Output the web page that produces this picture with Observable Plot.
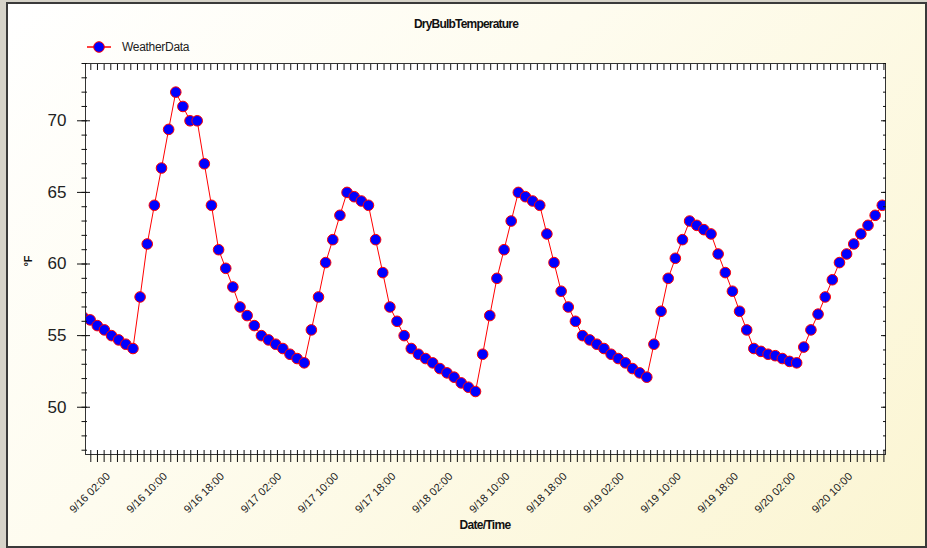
<!DOCTYPE html>
<html><head><meta charset="utf-8">
<script src="https://cdn.jsdelivr.net/npm/d3@7"></script>
<script src="https://cdn.jsdelivr.net/npm/@observablehq/plot@0.6"></script>
<style>
html,body{margin:0;padding:0;}
body{width:927px;height:548px;background:#d6d3c9;position:relative;overflow:hidden;font-family:"Liberation Sans",Arial,sans-serif;}
#panel{position:absolute;left:6px;top:2px;width:917px;height:542px;border:2px solid #3a3a3a;background:linear-gradient(135deg,#ffffff 0%,#fefcef 40%,#fbf5d2 100%);}
#title{position:absolute;left:0;width:932px;top:17px;text-align:center;font-weight:bold;font-size:12px;letter-spacing:-0.8px;color:#111;}
#legend{position:absolute;left:86px;top:40px;height:14px;display:flex;align-items:center;font-size:12px;letter-spacing:-0.3px;color:#222;}
#legend svg{margin-right:10px;}
#chart{position:absolute;left:0;top:56px;}
#ylab{position:absolute;left:20px;top:255px;width:16px;text-align:center;transform:rotate(-90deg);font-weight:bold;font-size:11px;color:#111;}
#xlab{position:absolute;left:0;width:970px;top:518px;text-align:center;font-weight:bold;font-size:12px;letter-spacing:-0.7px;color:#111;}
</style></head>
<body>
<div id="panel"></div>
<div id="title"></div>
<div id="legend"></div>
<div id="chart"></div>
<div id="ylab"></div>
<div id="xlab"></div>
<script>
const chartTitle = "DryBulbTemperature";
const seriesName = "WeatherData";
const yAxisLabel = "°F";
const xAxisLabel = "Date/Time";
// hourly readings starting 9/16 00:00
const temperatureF = [
  56.3, 56.1, 55.7, 55.4, 55.0, 54.7, 54.4, 54.1, 57.7, 61.4, 64.1, 66.7, 69.4, 72.0, 71.0, 70.0,
  70.0, 67.0, 64.1, 61.0, 59.7, 58.4, 57.0, 56.4, 55.7, 55.0, 54.7, 54.4, 54.1, 53.7, 53.4, 53.1,
  55.4, 57.7, 60.1, 61.7, 63.4, 65.0, 64.7, 64.4, 64.1, 61.7, 59.4, 57.0, 56.0, 55.0, 54.1, 53.7,
  53.4, 53.1, 52.7, 52.4, 52.1, 51.7, 51.4, 51.1, 53.7, 56.4, 59.0, 61.0, 63.0, 65.0, 64.7, 64.4,
  64.1, 62.1, 60.1, 58.1, 57.0, 56.0, 55.0, 54.7, 54.4, 54.1, 53.7, 53.4, 53.1, 52.7, 52.4, 52.1,
  54.4, 56.7, 59.0, 60.4, 61.7, 63.0, 62.7, 62.4, 62.1, 60.7, 59.4, 58.1, 56.7, 55.4, 54.1, 53.9,
  53.7, 53.6, 53.4, 53.2, 53.1, 54.2, 55.4, 56.5, 57.7, 58.9, 60.1, 60.7, 61.4, 62.1, 62.7, 63.4,
  64.1
];
const xTickHours = [2, 10, 18, 26, 34, 42, 50, 58, 66, 74, 82, 90, 98, 106];
const xTickLabels = ["9/16 02:00","9/16 10:00","9/16 18:00","9/17 02:00","9/17 10:00","9/17 18:00","9/18 02:00",
  "9/18 10:00","9/18 18:00","9/19 02:00","9/19 10:00","9/19 18:00","9/20 02:00","9/20 10:00"];
const yMajorTicks = [50, 55, 60, 65, 70];

const data = temperatureF.map((t, i) => ({hour: i, t}));
const labelMap = new Map(xTickHours.map((h, i) => [h, xTickLabels[i]]));
const minorX = d3.range(120).map(k => 1.093 + k * 0.9339);
const minorY = d3.range(47, 75);
const blank = () => "";

document.getElementById("title").textContent = chartTitle;
document.getElementById("ylab").textContent = yAxisLabel;
document.getElementById("xlab").textContent = xAxisLabel;
document.getElementById("legend").innerHTML =
  '<svg width="26" height="14"><line x1="1" x2="25" y1="7" y2="7" stroke="#ff0000" stroke-width="1.5"/><circle cx="13" cy="7" r="5.3" fill="#0000ff" stroke="#ff0000"/></svg><span></span>';
document.querySelector("#legend span").textContent = seriesName;

const chart = Plot.plot({
  width: 927, height: 492,
  marginTop: 7, marginBottom: 94, marginLeft: 85, marginRight: 42,
  style: {background: "transparent", fontFamily: "Liberation Sans, Arial, sans-serif", overflow: "visible"},
  x: {domain: [0.35, 112.45]},
  y: {domain: [46.7, 74]},
  marks: [
    Plot.frame({fill: "white", stroke: null}),
    Plot.line(data, {x: "hour", y: "t", stroke: "#ff0000", strokeWidth: 1, clip: true}),
    Plot.dot(data, {x: "hour", y: "t", r: 5.3, fill: "#0000ff", stroke: "#ff0000", strokeWidth: 1, clip: true}),
    Plot.frame({stroke: "#333"}),
    Plot.axisY({ticks: yMajorTicks, tickSize: 13, dx: 5, tickFormat: blank, label: null, stroke: "#111"}),
    Plot.axisY({ticks: minorY, tickSize: 5.5, dx: 2, tickFormat: blank, label: null, stroke: "#111"}),
    Plot.axisY({ticks: yMajorTicks, tickSize: 0, tickPadding: 19, fontSize: 17, fill: "#222", label: null}),
    Plot.axisY({anchor: "right", ticks: minorY, tickSize: 3, dx: -3, tickFormat: blank, label: null, stroke: "#111"}),
    Plot.axisY({anchor: "right", ticks: yMajorTicks, tickSize: 5, dx: -5, tickFormat: blank, label: null, stroke: "#111"}),
    Plot.axisX({ticks: minorX, tickSize: 12, dy: -4, tickFormat: blank, label: null, stroke: "#111"}),
    Plot.axisX({anchor: "top", ticks: minorX, tickSize: 6, dy: 6, tickFormat: blank, label: null, stroke: "#111"}),
    Plot.axisX({ticks: xTickHours, tickSize: 0, tickPadding: 20, dx: 11, tickRotate: -45,
      tickFormat: d => labelMap.get(d), fontSize: 11, fill: "#222", label: null})
  ]
});
document.getElementById("chart").appendChild(chart);
</script>
</body></html>
